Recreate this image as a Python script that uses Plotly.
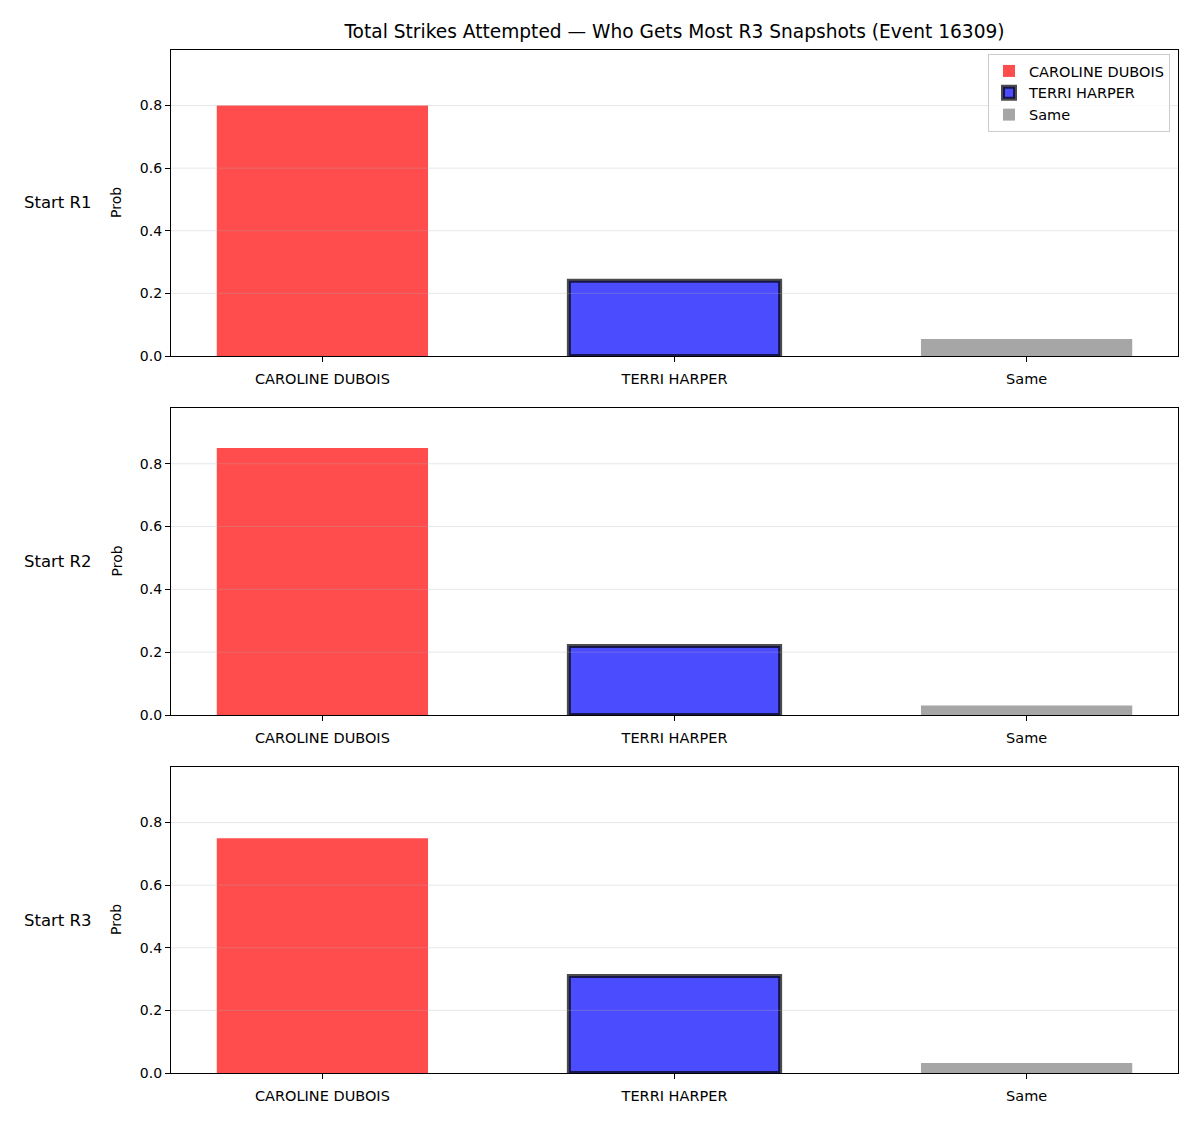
import plotly.graph_objects as go

categories = ["CAROLINE DUBOIS", "TERRI HARPER", "Same"]
row_labels = ["Start R1", "Start R2", "Start R3"]
caroline = [0.80, 0.85, 0.75]
terri = [0.24, 0.22, 0.31]
same = [0.054, 0.030, 0.032]
y_ticks = [0.0, 0.2, 0.4, 0.6, 0.8]
title = "Total Strikes Attempted — Who Gets Most R3 Snapshots (Event 16309)"

W, H = 1200, 1125
ml, mr, mt, mb = 171, 22, 50, 52
ph = H - mt - mb
pw = W - ml - mr
panels_px = [(50, 356), (408, 715), (767, 1073)]

def ypaper(px):
    return 1 - (px - mt) / ph

FONT = "DejaVu Sans"
colors = ["rgba(255,0,0,0.7)", "rgba(0,0,255,0.7)", "rgba(128,128,128,0.7)"]
line_w = [0, 4, 0]
ymax = max(max(caroline), max(terri), max(same)) * 1.15

fig = go.Figure()
series = [caroline, terri, same]
for r in range(3):
    xa = "x" if r == 0 else f"x{r+1}"
    ya = "y" if r == 0 else f"y{r+1}"
    for c in range(3):
        fig.add_trace(go.Bar(
            x=[c], y=[series[c][r]], width=0.6, name=categories[c],
            marker=dict(color=colors[c],
                        line=dict(color="rgba(0,0,0,0.7)", width=line_w[c])),
            showlegend=(r == 0), xaxis=xa, yaxis=ya, legendgroup=categories[c],
        ))

layout = dict(
    width=W, height=H,
    margin=dict(l=ml, r=mr, t=mt, b=mb),
    paper_bgcolor="white", plot_bgcolor="white",
    font=dict(family=FONT, size=14, color="black"),
    barmode="overlay",
    title=dict(text=title, x=(ml + pw / 2) / W, xanchor="center",
               y=1 - 31 / H, yanchor="middle",
               font=dict(size=18.6, family=FONT, color="black")),
    legend=dict(x=(1170 - ml) / pw, xanchor="right", y=ypaper(54), yanchor="top",
                bordercolor="#cccccc", borderwidth=1, bgcolor="rgba(255,255,255,0.8)",
                font=dict(size=14.5, family=FONT), tracegroupgap=0),
)
annotations = []
shapes = []
for r, (top, bot) in enumerate(panels_px):
    sfx = "" if r == 0 else str(r + 1)
    layout[f"xaxis{sfx}"] = dict(
        domain=[0, 1], anchor=f"y{sfx}", range=[-0.43, 2.43],
        tickmode="array", tickvals=[0, 1, 2], ticktext=categories,
        showline=True, mirror=True, linecolor="black", linewidth=1.2,
        ticks="outside", ticklen=5, tickwidth=1.2, tickcolor="black",
        showgrid=False, zeroline=False, tickfont=dict(size=14.5),
        ticklabelstandoff=4,
    )
    layout[f"yaxis{sfx}"] = dict(
        domain=[ypaper(bot), ypaper(top)], anchor=f"x{sfx}", range=[0, ymax],
        tickmode="array", tickvals=y_ticks, ticktext=[f"{v:.1f}" for v in y_ticks],
        showline=True, mirror=True, linecolor="black", linewidth=1.2,
        ticks="outside", ticklen=5, tickwidth=1.2, tickcolor="black",
        showgrid=False, zeroline=False, tickfont=dict(size=14),
    )
    ymid = ypaper((top + bot) / 2)
    annotations.append(dict(text=row_labels[r], xref="paper", yref="paper",
                            x=(22 - ml) / pw, xanchor="left", y=ymid, yanchor="middle",
                            showarrow=False, font=dict(size=16.5, family=FONT)))
    annotations.append(dict(text="Prob", xref="paper", yref="paper",
                            x=(116 - ml) / pw, xanchor="center", y=ymid, yanchor="middle",
                            textangle=-90, showarrow=False, font=dict(size=14, family=FONT)))
    for v in y_ticks[1:]:
        shapes.append(dict(type="line", xref=f"x{sfx} domain", yref=f"y{sfx}",
                           x0=0, x1=1, y0=v, y1=v, layer="above",
                           line=dict(color="rgba(176,176,176,0.3)", width=1)))
layout["annotations"] = annotations
layout["shapes"] = shapes
fig.update_layout(**layout)
fig.write_html("out.html")
